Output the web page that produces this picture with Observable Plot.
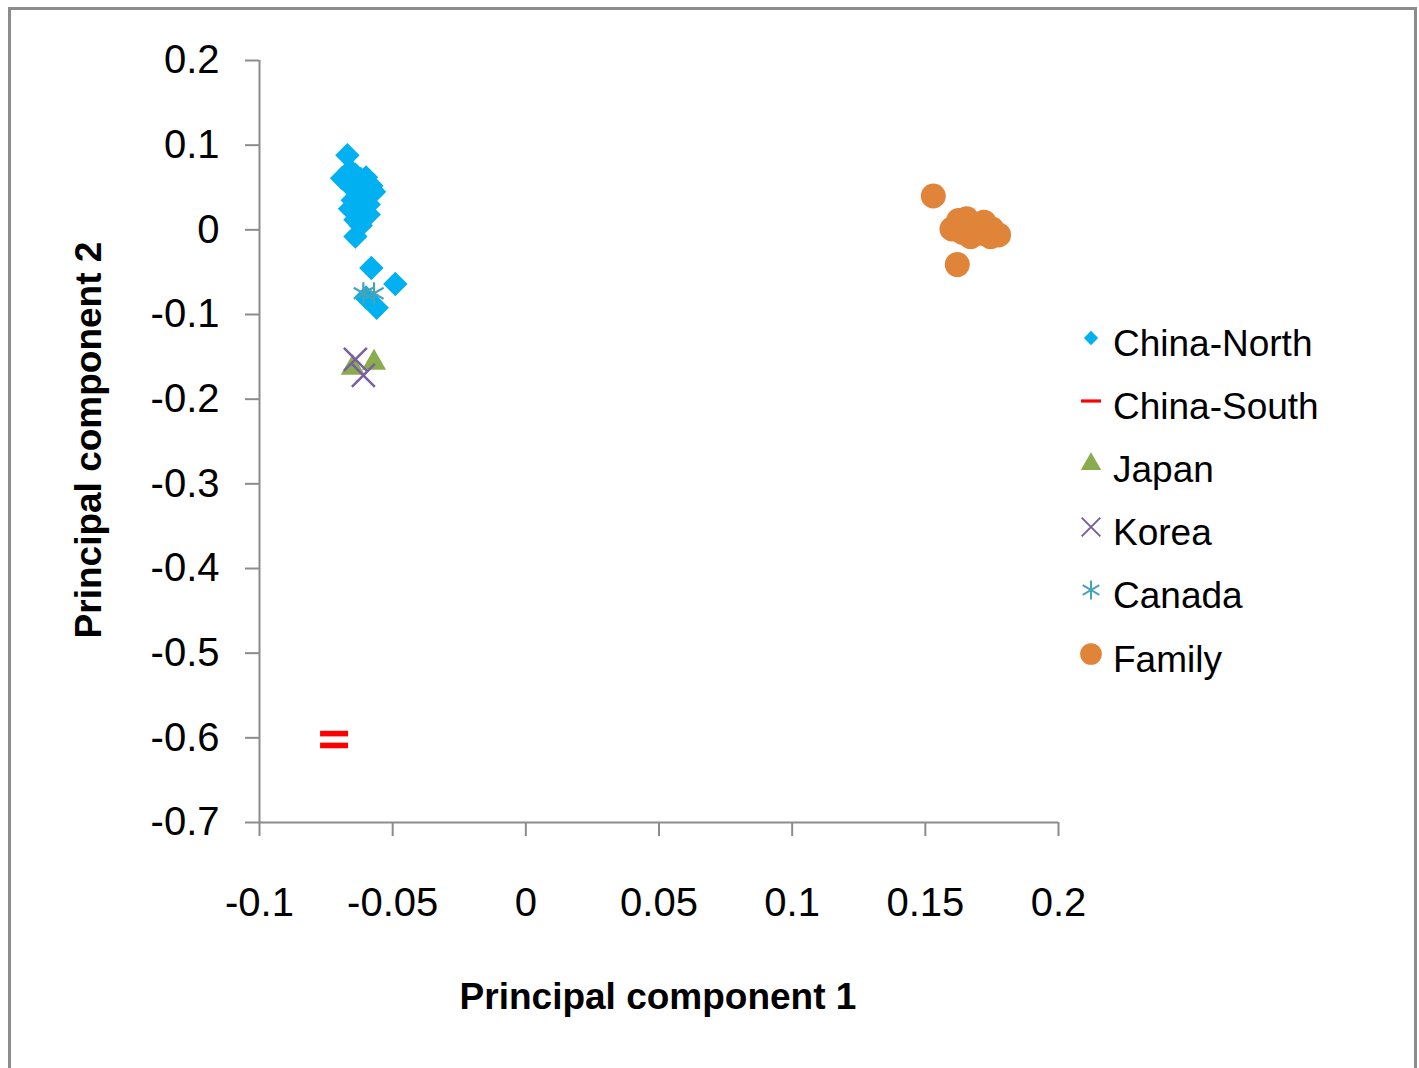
<!DOCTYPE html>
<html>
<head>
<meta charset="utf-8">
<script src="https://cdn.jsdelivr.net/npm/d3@7"></script>
<script src="https://cdn.jsdelivr.net/npm/@observablehq/plot@0.6"></script>
<style>
  html, body { margin: 0; padding: 0; background: #fff; overflow: hidden; }
  #wrap { position: relative; width: 1419px; height: 1068px; overflow: hidden; font-family: "Liberation Sans", Arial, sans-serif; }
  #frame { position: absolute; left: 8px; top: 7px; width: 1409px; height: 1120px; box-sizing: border-box; border: 3px solid #8c8c8c; }
  #chart { position: absolute; left: 0; top: 0; }
  .title { position: absolute; font-weight: bold; font-size: 37px; color: #000; white-space: nowrap; }
  #xtitle { left: 658px; top: 997px; transform: translate(-50%, -50%); }
  #ytitle { left: 89px; top: 440px; transform: translate(-50%, -50%) rotate(-90deg); }
  #legend { position: absolute; left: 1075px; top: 312px; }
  .item { display: flex; align-items: center; height: 63.2px; font-size: 37px; color: #000; white-space: nowrap; }
  .item svg { width: 32px; height: 40px; margin-right: 6px; position: relative; top: -6px; }
</style>
</head>
<body>
<div id="wrap">
  <div id="frame"></div>
  <div id="chart"></div>
  <div class="title" id="xtitle">Principal component 1</div>
  <div class="title" id="ytitle">Principal component 2</div>
  <div id="legend"></div>
</div>
<script>
// ---- data ----
const seriesNames = ["China-North", "China-South", "Japan", "Korea", "Canada", "Family"];
const seriesColors = ["#00b0f0", "#ff0000", "#8bab4f", "#7a5fa0", "#47a4b8", "#e0843a"];

const chinaNorthX = [-0.067, -0.069, -0.066, -0.064, -0.062, -0.060, -0.058, -0.066, -0.063, -0.057, -0.061, -0.065, -0.059, -0.066, -0.062, -0.059, -0.064, -0.062, -0.064, -0.063, -0.060, -0.058, -0.049, -0.056, -0.060];
const chinaNorthY = [0.088, 0.061, 0.070, 0.065, 0.060, 0.056, 0.052, 0.052, 0.048, 0.045, 0.040, 0.035, 0.030, 0.025, 0.022, 0.018, 0.012, 0.005, -0.008, 0.058, 0.062, -0.045, -0.064, -0.092, -0.080];

const chinaSouthX = [-0.072, -0.072];
const chinaSouthY = [-0.595, -0.609];

const japanX = [-0.065, -0.057];
const japanY = [-0.163, -0.157];

const koreaX = [-0.064, -0.061];
const koreaY = [-0.153, -0.172];

const canadaX = [-0.061, -0.057];
const canadaY = [-0.075, -0.075];

const familyX = [0.153, 0.162, 0.160, 0.1625, 0.1655, 0.167, 0.169, 0.172, 0.1745, 0.1775, 0.164, 0.171, 0.175];
const familyY = [0.040, -0.041, 0.001, 0.011, 0.013, -0.008, 0.001, 0.009, -0.008, -0.006, -0.003, -0.004, 0.001];

const xTicks = [-0.1, -0.05, 0, 0.05, 0.1, 0.15, 0.2];
const yTicks = [0.2, 0.1, 0, -0.1, -0.2, -0.3, -0.4, -0.5, -0.6, -0.7];
const xDomain = [-0.1, 0.2];
const yDomain = [-0.7, 0.2];

// ---- helpers ----
const toRows = (xs, ys) => xs.map((x, i) => ({x, y: ys[i]}));
const dashSymbol = (w, h) => ({
  draw(ctx) {
    ctx.moveTo(-w, -h); ctx.lineTo(w, -h); ctx.lineTo(w, h); ctx.lineTo(-w, h); ctx.closePath();
  }
});
const fmt = d => String(+d.toFixed(3));
const axisColor = "#8c8c8c";

const chart = Plot.plot({
  width: 1419,
  height: 1068,
  marginLeft: 259,
  marginRight: 361,
  marginTop: 60,
  marginBottom: 246,
  x: {domain: xDomain},
  y: {domain: yDomain},
  style: {fontFamily: "'Liberation Sans', Arial, sans-serif", fontSize: "40px", color: "#000", background: "transparent", overflow: "visible"},
  marks: [
    Plot.ruleX([xDomain[0]], {stroke: axisColor, strokeWidth: 2}),
    Plot.ruleY([yDomain[0]], {stroke: axisColor, strokeWidth: 2}),
    Plot.axisY({ticks: yTicks, tickSize: 14, tickPadding: 26, tickFormat: fmt, label: null, stroke: axisColor, strokeWidth: 2, fill: "#000", fontSize: 40}),
    Plot.axisX({ticks: xTicks, tickSize: 14, tickPadding: 51, tickFormat: fmt, label: null, stroke: axisColor, strokeWidth: 2, fill: "#000", fontSize: 40}),
    Plot.dot(toRows(chinaNorthX, chinaNorthY), {x: "x", y: "y", symbol: "diamond2", r: 11, fill: seriesColors[0], stroke: "none"}),
    Plot.dot(toRows(chinaSouthX, chinaSouthY), {x: "x", y: "y", symbol: dashSymbol(14, 2.8), r: 5, fill: seriesColors[1], stroke: "none"}),
    Plot.dot(toRows(japanX, japanY), {x: "x", y: "y", symbol: "triangle2", r: 11.5, fill: seriesColors[2], stroke: "none"}),
    Plot.dot(toRows(koreaX, koreaY), {x: "x", y: "y", symbol: "times", r: 10.5, fill: "none", stroke: seriesColors[3], strokeWidth: 2.5}),
    Plot.dot(toRows(canadaX, canadaY), {x: "x", y: "y", symbol: "asterisk", r: 10.5, fill: "none", stroke: seriesColors[4], strokeWidth: 2.2}),
    Plot.dot(toRows(familyX, familyY), {x: "x", y: "y", symbol: "circle", r: 12.5, fill: seriesColors[5], stroke: "none"})
  ]
});
document.getElementById("chart").appendChild(chart);

// ---- legend ----
const legendSymbols = [
  {sym: d3.symbolDiamond2, size: 130, fill: true},
  {sym: dashSymbol(10, 1.6), size: 0, fill: true},
  {sym: d3.symbolTriangle2, size: 300, fill: true},
  {sym: d3.symbolTimes, size: 230, fill: false},
  {sym: d3.symbolAsterisk, size: 260, fill: false},
  {sym: d3.symbolCircle, size: 370, fill: true}
];
const legend = d3.select("#legend");
seriesNames.forEach((name, i) => {
  const item = legend.append("div").attr("class", "item");
  const svg = item.append("svg").attr("viewBox", "-16 -20 32 40");
  const s = legendSymbols[i];
  svg.append("path")
    .attr("d", d3.symbol(s.sym, s.size)())
    .attr("fill", s.fill ? seriesColors[i] : "none")
    .attr("stroke", s.fill ? "none" : seriesColors[i])
    .attr("stroke-width", 2);
  item.append("span").text(name);
});
</script>
</body>
</html>
